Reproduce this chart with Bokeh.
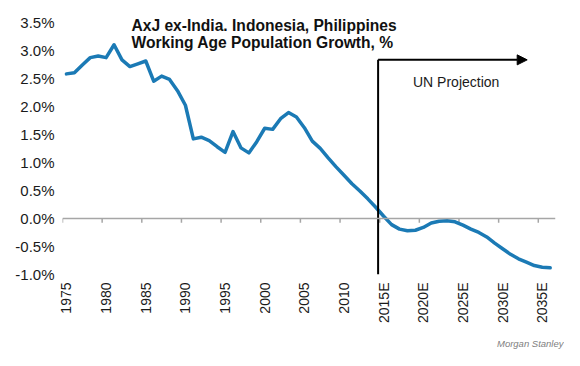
import math
from bokeh.plotting import figure
from bokeh.models import (FixedTicker, PrintfTickFormatter, Span, Label, Arrow,
                          NormalHead, ColumnDataSource, Title)
from bokeh.embed import file_html
from bokeh.resources import INLINE

years = list(range(1975, 2037))
growth = [2.58, 2.60, 2.74, 2.87, 2.90, 2.87, 3.10, 2.83, 2.71, 2.76,
          2.81, 2.45, 2.54, 2.48, 2.28, 2.02, 1.42, 1.45, 1.39, 1.28,
          1.18, 1.55, 1.26, 1.17, 1.37, 1.61, 1.59, 1.78, 1.89, 1.81,
          1.62, 1.38, 1.25, 1.08, 0.92, 0.77, 0.62, 0.49, 0.35, 0.20,
          0.04, -0.11, -0.19, -0.22, -0.21, -0.16, -0.08, -0.05, -0.04, -0.06,
          -0.12, -0.19, -0.25, -0.33, -0.44, -0.54, -0.64, -0.72, -0.78, -0.84,
          -0.87, -0.88]
x_ticks = list(range(1975, 2036, 5))
x_tick_labels = {t: (str(t) + "E" if t >= 2015 else str(t)) for t in x_ticks}
y_ticks = [-1.0, -0.5, 0.0, 0.5, 1.0, 1.5, 2.0, 2.5, 3.0, 3.5]
projection_start = 2015
projection_end = 2033.1
title_lines = ["AxJ ex-India. Indonesia, Philippines",
               "Working Age Population Growth, %"]
source_text = "Morgan Stanley"

FONT = "Liberation Sans"

p = figure(width=564, height=358, output_backend="svg", toolbar_location=None,
           x_range=(1974.5, 2036.67), y_range=(-1.0, 3.711),
           min_border_left=62, min_border_right=9, min_border_top=10,
           min_border_bottom=81)
p.outline_line_color = None
p.grid.visible = False
p.background_fill_color = "white"
p.border_fill_color = "white"

# y axis
p.yaxis.ticker = FixedTicker(ticks=y_ticks)
p.yaxis.formatter = PrintfTickFormatter(format="%.1f%%")
p.yaxis.axis_line_color = None
p.yaxis.major_tick_line_color = None
p.yaxis.minor_tick_line_color = None
p.yaxis.major_tick_out = 0
p.yaxis.major_label_standoff = 8
p.yaxis.major_label_text_font = FONT
p.yaxis.major_label_text_font_size = "15px"
p.yaxis.major_label_text_color = "#1a1a1a"

# x axis (labels only, at bottom)
p.xaxis.ticker = FixedTicker(ticks=x_ticks)
p.xaxis.major_label_overrides = x_tick_labels
p.xaxis.axis_line_color = None
p.xaxis.major_tick_line_color = None
p.xaxis.minor_tick_line_color = None
p.xaxis.major_tick_out = 0
p.xaxis.major_label_standoff = 8
p.xaxis.major_label_orientation = math.pi / 2
p.xaxis.major_label_text_font = FONT
p.xaxis.major_label_text_font_size = "14px"
p.xaxis.major_label_text_color = "#1a1a1a"

# zero line with category-boundary tick marks
p.add_layout(Span(location=0, dimension="width", line_color="#a6a6a6", line_width=1.5))
tick_x = [t - 0.5 for t in x_ticks]
p.segment(x0=tick_x, y0=[0] * len(tick_x), x1=tick_x, y1=[-0.075] * len(tick_x),
          line_color="#a6a6a6", line_width=1.5)

# series
src = ColumnDataSource(data=dict(x=years, y=growth))
p.line("x", "y", source=src, line_color="#1b7ab5", line_width=3.5,
       line_join="round", line_cap="round")

# projection marker
vx = projection_start - 0.7
arrow_y = 2.83
p.segment(x0=[vx], y0=[-1.0], x1=[vx], y1=[arrow_y], line_color="black", line_width=2)
p.add_layout(Arrow(end=NormalHead(size=10, fill_color="black", line_color="black"),
                   x_start=vx, y_start=arrow_y, x_end=projection_end, y_end=arrow_y,
                   line_color="black", line_width=2))
p.add_layout(Label(x=2018.7, y=2.44, text="UN Projection", text_font=FONT,
                   text_font_size="14px", text_color="#1a1a1a",
                   text_baseline="alphabetic"))

# title
for t, yy in zip(title_lines, [3.447, 3.136]):
    p.add_layout(Label(x=1983.2, y=yy, text=t, text_font=FONT,
                       text_font_size="15.6px", text_font_style="bold",
                       text_color="#111111", text_baseline="alphabetic"))

# source note below the axis
p.add_layout(Title(text=source_text, align="right", text_font=FONT,
                   text_font_size="9.5px", text_font_style="italic",
                   text_color="#808080", standoff=20, offset=-8), "below")

open("out.html", "w").write(file_html(p, INLINE))
